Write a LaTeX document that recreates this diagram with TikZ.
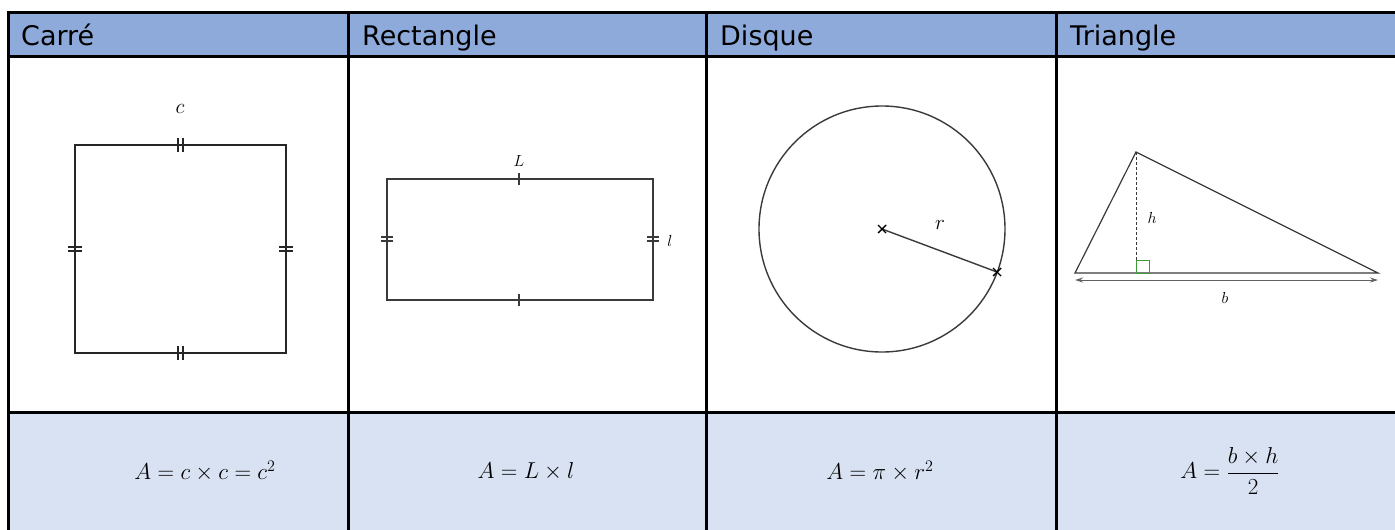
\documentclass[tikz,border=0pt]{standalone}
\usepackage{fix-cm}
\usepackage{amsmath}
\usepackage{fontspec}
\setsansfont{DejaVu Sans}
\usetikzlibrary{arrows.meta,calc}
\definecolor{headblue}{HTML}{8EAADB}
\definecolor{rowblue}{HTML}{D9E2F3}
\definecolor{figgray}{HTML}{3A3A3A}
\definecolor{anglegreen}{HTML}{3C9A3C}
\tikzset{
  grid/.style={line width=3pt, black},
  headtxt/.style={anchor=base west, font=\sffamily\fontsize{27}{30}\selectfont, inner sep=0pt},
  formula/.style={font=\fontsize{23}{27}\selectfont, inner sep=0pt},
  lab/.style={font=\fontsize{21}{23}\selectfont, inner sep=0pt},
  smlab/.style={font=\fontsize{16}{18}\selectfont, inner sep=0pt},
  sqline/.style={line width=2.8pt, black!85},
  fig/.style={line width=1.4pt, figgray},
  tick/.style={line width=1.5pt, figgray}
}
\begin{document}
\begin{tikzpicture}[x=1pt,y=-1pt]
\useasboundingbox (0,0) rectangle (1395,530);
% fills
\fill[headblue] (8,12) rectangle (1395,56);
\fill[rowblue] (8,412) rectangle (1395,530);
% grid
\draw[grid] (8,12) -- (1395,12);
\draw[grid] (8,56) -- (1395,56);
\draw[grid] (8,412) -- (1395,412);
\draw[grid] (8,10.5) -- (8,530);
\draw[grid] (348,12) -- (348,530);
\draw[grid] (706,12) -- (706,530);
\draw[grid] (1056,12) -- (1056,530);
% headers
\node[headtxt] (h1) at (21,45) {Carré};
\node[headtxt] (h2) at (362,45) {Rectangle};
\node[headtxt] (h3) at (720,45) {Disque};
\node[headtxt] (h4) at (1070,45) {Triangle};
% square
\draw[sqline] (75,145) rectangle (286,353);
\foreach \dx in {-2.3,2.3} {
  \draw[sqline, line width=1.8pt] (180.5+\dx,138) -- (180.5+\dx,152);
  \draw[sqline, line width=1.8pt] (180.5+\dx,346) -- (180.5+\dx,360);
}
\foreach \dy in {-2.3,2.3} {
  \draw[sqline, line width=1.8pt] (68,249+\dy) -- (82,249+\dy);
  \draw[sqline, line width=1.8pt] (279,249+\dy) -- (293,249+\dy);
}
\node[lab] (lc) at (180,109) {$c$};
% rectangle
\draw[fig] (387,179) rectangle (653,300);
\draw[tick] (519,173) -- (519,185);
\draw[tick] (519,294) -- (519,306);
\foreach \dy in {-1.9,1.9} {
  \draw[tick] (381,239+\dy) -- (393,239+\dy);
  \draw[tick] (647,239+\dy) -- (659,239+\dy);
}
\node[smlab] (lL) at (519,161) {$L$};
\node[smlab] (ll) at (670,241) {$l$};
% disc
\draw[fig] (882,229) circle (123);
\coordinate (O) at (882,229);
\coordinate (P) at (997,272);
\draw[fig] (O) -- (P);
\foreach \p in {O,P} {
  \draw[line width=1.4pt, black] ($(\p)+(-4,-4)$) -- ($(\p)+(4,4)$);
  \draw[line width=1.4pt, black] ($(\p)+(-4,4)$) -- ($(\p)+(4,-4)$);
}
\node[lab] (lr) at (940,225) {$r$};
% triangle
\coordinate (TA) at (1075,273);
\coordinate (TB) at (1136,152);
\coordinate (TC) at (1378,273);
\coordinate (TH) at (1136,273);
\draw[fig, line width=1.2pt] (TA) -- (TB) -- (TC) -- cycle;
\draw[fig, line width=1pt, dash pattern=on 3pt off 2pt] (TB) -- (TH);
\draw[anglegreen, line width=1pt] (1136,260) rectangle (1149,273);
\draw[figgray!80, line width=1pt, {Stealth[length=8pt,width=5pt]}-{Stealth[length=8pt,width=5pt]}] (1075,280) -- (1378,280);
\node[smlab] (lh) at (1152,218) {$h$};
\node[smlab] (lb) at (1225,298) {$b$};
% formulas
\node[formula] (f1) at (205,471) {$A = c\times c = c^2$};
\node[formula] (f2) at (526,471) {$A = L\times l$};
\node[formula] (f3) at (880,471) {$A = \pi\times r^2$};
\node[formula] (f4) at (1230,471) {$A = \dfrac{b\times h}{2}$};
\end{tikzpicture}
\end{document}
